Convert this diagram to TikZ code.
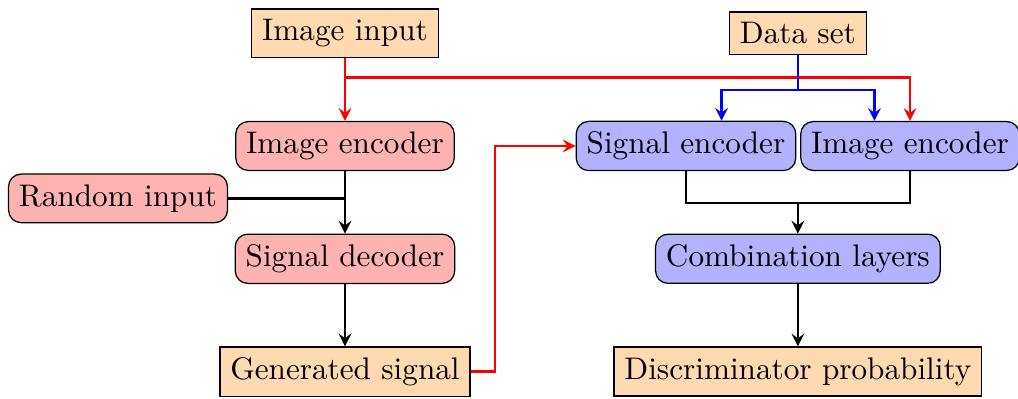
\documentclass[tikz,border=0pt]{standalone}
\usepackage{tikz}
\usetikzlibrary{arrows,calc}
\tikzset{
    block/.style = {draw, rectangle, fill=orange!30},
    genblock/.style = {draw, rectangle, rounded corners, fill=red!30},
    disblock/.style = {draw, rectangle, rounded corners, fill=blue!30},
    arrow/.style = {draw, thick, -stealth},
    joint/.style = {draw, thick}
}

\begin{document}
\begin{tikzpicture}
    \useasboundingbox (-3.885,-2.849) rectangle (7.579,1.644);
    % generator
    \node [block] (imgin) at (0,1.27) {Image input};
    \node [genblock] (imgenc) at (0,0) {Image encoder};
    \node [genblock] (rand) at (-2.556,-0.59) {Random input};
    \node [genblock] (sigdec) at (0,-1.27) {Signal decoder};
    \node [block] (gensig) at (0,-2.54) {Generated signal};
    % discriminator
    \node [block] (data) at (5.1,1.27) {Data set};
    \node [disblock] (sigenc) at (3.84,0) {Signal encoder};
    \node [disblock] (imgenc2) at (6.363,0) {Image encoder};
    \node [disblock] (comb) at (5.1,-1.27) {Combination layers};
    \node [block] (prob) at (5.1,-2.54) {Discriminator probability};

    \coordinate (imgsplit) at (0,0.77);
    \coordinate (datasplit) at (5.1,0.63);
    \coordinate (randjoin) at (0,-0.59);
    \coordinate (encjoin) at (5.1,-0.642);
    \coordinate (gsturn) at (1.69,-2.54);

    % image path
    \draw [arrow, red] (imgin) -- (imgenc);
    \draw [arrow, red] (imgsplit) -| (imgenc2.north);
    % data set feeds both encoders
    \draw [joint, blue] (data) -- (datasplit);
    \draw [arrow, blue] (datasplit) -| ($(sigenc.north)+(0.4,0)$);
    \draw [arrow, blue] (datasplit) -| ($(imgenc2.north)-(0.4,0)$);
    % generator chain
    \draw [joint] (rand) -- (randjoin);
    \draw [arrow] (imgenc) -- (sigdec);
    \draw [arrow] (sigdec) -- (gensig);
    \draw [arrow, red] (gensig) -- (gsturn) |- (sigenc);
    % discriminator chain
    \draw [joint] (sigenc) |- (encjoin) -| (imgenc2);
    \draw [arrow] (encjoin) -- (comb);
    \draw [arrow] (comb) -- (prob);
\end{tikzpicture}
\end{document}
